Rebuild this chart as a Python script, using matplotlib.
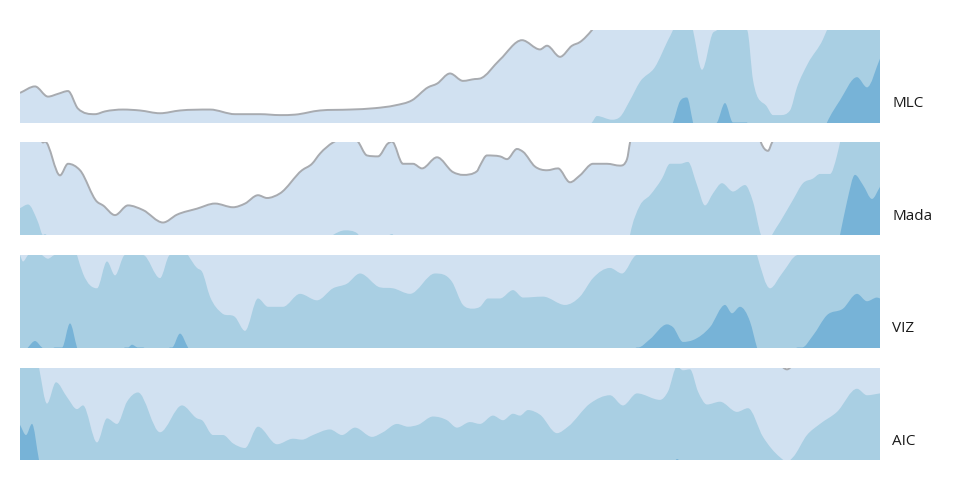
# horizon chart - four series folded into three bands
import numpy as np
import matplotlib.pyplot as plt
from matplotlib.path import Path
from matplotlib.patches import PathPatch

plt.rcParams['font.family'] = ['Open Sans', 'DejaVu Sans']

names = ['MLC', 'Mada', 'VIZ', 'AIC']

# time position (0..860) and value in band units (1 band = one row height)
mlc_t = [0, 15, 28, 38, 48, 58, 75, 85, 103, 120, 140, 160, 190, 215, 240, 260, 275,
         300, 330, 355, 375, 392, 408, 417, 430, 443, 455, 460, 480, 502, 520, 527, 540,
         552, 560, 572, 577, 592, 600, 610, 620, 635, 648, 653, 660, 667, 673, 682, 693,
         697, 705, 713, 727, 733, 747, 753, 760, 770, 777, 788, 803, 807, 820, 837, 847,
         860]
mlc_v = [0.32, 0.39, 0.28, 0.31, 0.34, 0.15, 0.09, 0.12, 0.14, 0.13, 0.10, 0.13, 0.14,
         0.09, 0.09, 0.08, 0.085, 0.13, 0.14, 0.155, 0.185, 0.24, 0.38, 0.42, 0.53, 0.45,
         0.47, 0.475, 0.68, 0.89, 0.79, 0.83, 0.71, 0.83, 0.87, 1.0, 1.07, 1.03, 1.06,
         1.24, 1.44, 1.6, 1.89, 2.0, 2.23, 2.27, 2.0, 1.57, 1.97, 2.0, 2.21, 2.0, 2.0,
         1.46, 1.17, 1.08, 1.08, 1.13, 1.38, 1.64, 1.9, 2.0, 2.24, 2.49, 2.38, 2.69]

mada_t = [0, 8, 18, 23, 25, 40, 48, 60, 77, 83, 95, 108, 123, 143, 157, 177, 195, 213,
          225, 238, 247, 260, 282, 292, 300, 313, 325, 337, 347, 358, 368, 372, 383, 393,
          402, 417, 433, 443, 457, 460, 467, 480, 487, 497, 503, 515, 527, 538, 550, 560,
          573, 587, 600, 607, 610, 620, 630, 642, 650, 660, 668, 677, 685, 693, 702, 713,
          725, 733, 741, 748, 752, 760, 773, 783, 793, 800, 810, 817, 820, 827, 835, 843,
          852, 860]
mada_v = [1.29, 1.33, 1.14, 1.0, 1.01, 0.645, 0.77, 0.70, 0.36, 0.32, 0.215, 0.32, 0.27,
          0.135, 0.22, 0.285, 0.34, 0.30, 0.34, 0.43, 0.40, 0.45, 0.70, 0.77, 0.88, 1.0,
          1.05, 1.02, 0.86, 0.85, 0.99, 1.01, 0.77, 0.77, 0.72, 0.84, 0.68, 0.65, 0.69, 0.75,
          0.86, 0.85, 0.82, 0.93, 0.90, 0.74, 0.70, 0.72, 0.57, 0.645, 0.77, 0.77, 0.75,
          0.82, 1.0, 1.32, 1.43, 1.61, 1.77, 1.77, 1.79, 1.54, 1.32, 1.45, 1.56, 1.47, 1.54,
          1.36, 1.0, 0.91, 1.0, 1.14, 1.38, 1.56, 1.61, 1.66, 1.66, 1.86, 2.0, 2.36, 2.65,
          2.54, 2.39, 2.52]

viz_t = [0, 3, 8, 15, 22, 28, 35, 42, 50, 57, 63, 77, 87, 95, 105, 108, 112, 118, 123,
         140, 150, 152, 160, 168, 177, 182, 190, 202, 215, 225, 238, 248, 263, 280, 297,
         313, 327, 340, 360, 373, 390, 415, 432, 443, 453, 460, 468, 480, 493, 503, 523,
         545, 560, 573, 590, 602, 617, 618, 630, 647, 653, 663, 673, 690, 705, 712, 720,
         730, 737, 750, 762, 778, 782, 793, 807, 823, 837, 847, 857, 860]
viz_v = [2.0, 1.93, 2.0, 2.07, 2.0, 1.96, 2.0, 2.0, 2.26, 2.0, 1.8, 1.64, 1.93, 1.78,
         2.0, 2.0, 2.03, 2.0, 2.0, 1.75, 2.0, 2.0, 2.15, 2.0, 1.86, 1.82, 1.55, 1.37, 1.33,
         1.18, 1.53, 1.44, 1.44, 1.58, 1.51, 1.64, 1.69, 1.80, 1.65, 1.64, 1.58, 1.80, 1.71,
         1.46, 1.42, 1.44, 1.53, 1.53, 1.62, 1.54, 1.55, 1.46, 1.55, 1.75, 1.86, 1.80, 2.0,
         2.0, 2.09, 2.25, 2.22, 2.06, 2.08, 2.22, 2.46, 2.37, 2.44, 2.28, 2.0, 1.64, 1.80,
         2.0, 2.0, 2.13, 2.35, 2.42, 2.58, 2.5, 2.54, 2.53]

aic_t = [0, 6, 12, 19, 27, 36, 47, 57, 63, 77, 87, 97, 107, 118, 140, 162, 177, 182,
         193, 203, 213, 225, 238, 257, 273, 282, 293, 310, 322, 335, 352, 363, 377, 388,
         398, 413, 427, 437, 450, 460, 473, 483, 493, 500, 508, 520, 537, 548, 570, 590,
         603, 617, 640, 648, 657, 663, 670, 678, 687, 700, 717, 728, 743, 760, 767, 773,
         787, 800, 817, 837, 847, 860]
aic_v = [2.38, 2.27, 2.39, 2.0, 1.61, 1.84, 1.68, 1.55, 1.59, 1.19, 1.45, 1.39, 1.63,
         1.73, 1.30, 1.59, 1.45, 1.43, 1.27, 1.27, 1.18, 1.13, 1.36, 1.17, 1.23, 1.22, 1.27,
         1.33, 1.27, 1.35, 1.25, 1.30, 1.39, 1.36, 1.38, 1.47, 1.43, 1.35, 1.41, 1.39, 1.48,
         1.43, 1.50, 1.48, 1.54, 1.49, 1.29, 1.36, 1.61, 1.70, 1.59, 1.72, 1.65, 1.74, 2.01,
         1.97, 1.98, 1.74, 1.60, 1.63, 1.52, 1.56, 1.25, 1.03, 0.98, 1.03, 1.27, 1.39, 1.52,
         1.77, 1.70, 1.72]

series = [(mlc_t, mlc_v), (mada_t, mada_v), (viz_t, viz_v), (aic_t, aic_v)]
band_colors = ['#d1e1f1', '#a9cfe3', '#77b3d7']


def monotone_path(x, y, closed=False):
    # cubic bezier path through the points, like d3.curveMonotoneX
    x = np.asarray(x, float)
    y = np.asarray(y, float)
    dx = np.diff(x)
    s = np.diff(y) / dx
    m = np.zeros_like(y)
    m[0], m[-1] = s[0], s[-1]
    for i in range(1, len(y) - 1):
        if s[i - 1] * s[i] <= 0:
            m[i] = 0
        else:
            h0, h1 = dx[i - 1], dx[i]
            m[i] = (s[i - 1] * h1 + s[i] * h0) / (h0 + h1)
            m[i] = np.sign(m[i]) * min(abs(m[i]), 3 * min(abs(s[i - 1]), abs(s[i])))
    verts = [(x[0], y[0])]
    codes = [Path.MOVETO]
    for i in range(len(x) - 1):
        h = dx[i] / 3
        verts += [(x[i] + h, y[i] + m[i] * h), (x[i + 1] - h, y[i + 1] - m[i + 1] * h),
                  (x[i + 1], y[i + 1])]
        codes += [Path.CURVE4] * 3
    if closed:
        verts += [(x[-1], -5), (x[0], -5), (x[0], y[0])]
        codes += [Path.LINETO, Path.LINETO, Path.CLOSEPOLY]
    return Path(verts, codes)


fig = plt.figure(figsize=(9.6, 5), dpi=100)
W, H = 960.0, 500.0
row_top = 30.0
row_h = 92.5
row_step = 112.5

for i, (name, (t, v)) in enumerate(zip(names, series)):
    top = row_top + i * row_step
    ax = fig.add_axes([20 / W, 1 - (top + row_h) / H, 860 / W, row_h / H])
    v = np.array(v, dtype=float)
    for k, c in enumerate(band_colors):
        ax.add_patch(PathPatch(monotone_path(t, v - k, closed=True), facecolor=c, lw=0))
        if k == 0:
            ax.add_patch(PathPatch(monotone_path(t, v), fill=False, edgecolor='#a8abb0',
                                   lw=1.4))
    ax.set_xlim(0, 860)
    ax.set_ylim(0, 1)
    ax.axis('off')
    ax.text(872 / 860, 0.205, name, transform=ax.transAxes, fontsize=11,
            va='center', ha='left', color='#1a1a1a')

plt.savefig('out.png', dpi=100)
